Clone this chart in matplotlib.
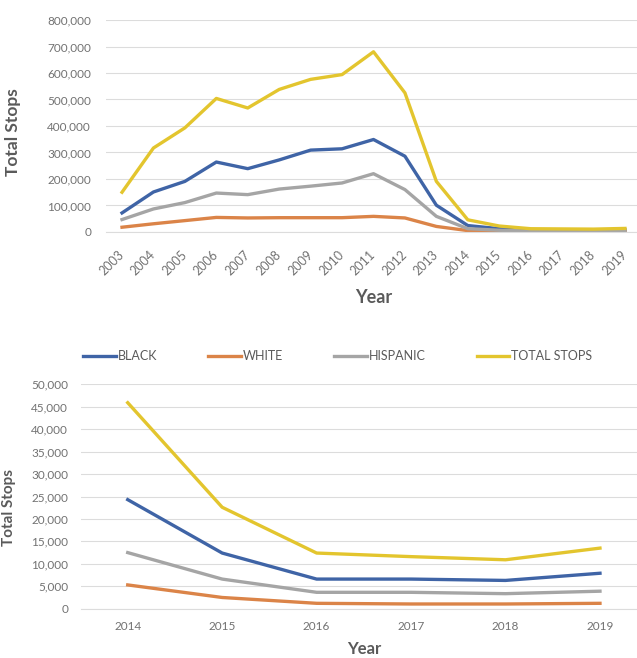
import numpy as np
import matplotlib.pyplot as plt
from matplotlib.ticker import FuncFormatter

# values
years_all = [str(y) for y in range(2003, 2020)]
black_all = [72000, 151000, 191000, 264000, 239000, 272000, 309000, 314000, 349000,
             286000, 101000, 24300, 12400, 6600, 6600, 6300, 7900]
white_all = [18000, 31000, 43000, 55000, 53000, 54000, 54000, 54000, 59000,
             53000, 21000, 5300, 2500, 1200, 1050, 1050, 1200]
hispanic_all = [47000, 87000, 111000, 147000, 141000, 162000, 173000, 185000, 220000,
                160000, 59000, 12500, 6600, 3650, 3650, 3350, 3900]
total_all = [150000, 317000, 393000, 504000, 468000, 538000, 576000, 594000, 680000,
             525000, 191000, 45900, 22600, 12400, 11600, 10900, 13500]

years_recent = ['2014', '2015', '2016', '2017', '2018', '2019']
black_recent = [24300, 12400, 6600, 6600, 6300, 7900]
white_recent = [5300, 2500, 1200, 1050, 1050, 1200]
hispanic_recent = [12500, 6600, 3650, 3650, 3350, 3900]
total_recent = [45900, 22600, 12400, 11600, 10900, 13500]

labels = ['BLACK', 'WHITE', 'HISPANIC', 'TOTAL STOPS']
colors = ['#3F64A6', '#DB8448', '#A5A5A5', '#E3C52E']

plt.rcParams['font.family'] = ['Lato', 'DejaVu Sans']
tick_color = '#727272'
title_color = '#5A5A5A'
grid_color = '#DCDCDC'
comma = FuncFormatter(lambda v, p: f'{int(v):,}')

fig = plt.figure(figsize=(6.37, 6.58), dpi=100)
W, H = 637, 658


def style(ax, ymax, step, ypad, xpad):
    ax.set_ylim(0, ymax)
    ax.set_yticks(np.arange(0, ymax + 1, step))
    ax.yaxis.set_major_formatter(comma)
    ax.grid(axis='y', color=grid_color, linewidth=0.8)
    ax.set_axisbelow(True)
    for s in ['top', 'right', 'left']:
        ax.spines[s].set_visible(False)
    ax.spines['bottom'].set_color(grid_color)
    ax.spines['bottom'].set_linewidth(0.8)
    ax.tick_params(axis='both', length=0, colors=tick_color, labelsize=8.5)
    ax.tick_params(axis='y', pad=ypad)
    ax.tick_params(axis='x', pad=xpad)


# top chart: 2003-2019
ax1 = fig.add_axes([106.3 / W, 1 - 232 / H, 534.4 / W, 212 / H])
x1 = np.arange(len(years_all))
for vals, c in zip([black_all, white_all, hispanic_all, total_all], colors):
    ax1.plot(x1, vals, color=c, linewidth=2.4, solid_joinstyle='round')
ax1.set_xlim(-0.5, len(years_all) - 0.5)
ax1.set_xticks(x1)
ax1.set_xticklabels(years_all, rotation=45, ha='right', va='center',
                    rotation_mode='anchor')
style(ax1, 800000, 100000, 11, 15)
ax1.tick_params(axis='x', labelsize=9)
ax1.set_ylabel('Total Stops', fontsize=12.5, fontweight='bold', color=title_color)
ax1.yaxis.set_label_coords(-(106.3 - 21) / 534.4, (232 - 132) / 212)
ax1.set_xlabel('Year', fontsize=13, fontweight='bold', color=title_color)
ax1.xaxis.set_label_coords(0.5, -(289 - 232) / 212)

# bottom chart: 2014-2019
ax2 = fig.add_axes([80.5 / W, 1 - 608.7 / H, 566.7 / W, 224.4 / H])
x2 = np.arange(len(years_recent))
lines = []
for vals, c, lab in zip([black_recent, white_recent, hispanic_recent, total_recent],
                        colors, labels):
    ln, = ax2.plot(x2, vals, color=c, linewidth=2.4, label=lab, solid_joinstyle='round')
    lines.append(ln)
ax2.set_xlim(-0.5, len(years_recent) - 0.5)
ax2.set_xticks(x2)
ax2.set_xticklabels(years_recent)
style(ax2, 50000, 5000, 9, 9)
ax2.set_ylabel('Total Stops', fontsize=11, fontweight='bold', color=title_color)
ax2.yaxis.set_label_coords(-(80.5 - 16) / 566.7, (608.7 - 508) / 224.4)
ax2.set_xlabel('Year', fontsize=12, fontweight='bold', color=title_color)
ax2.xaxis.set_label_coords(0.5, -(641 - 608.7) / 224.4)

leg = fig.legend(handles=lines, loc='center left', ncol=4, frameon=False,
                 bbox_to_anchor=(72 / W, 1 - 356 / H), fontsize=9,
                 handlelength=2.6, handletextpad=0.15, columnspacing=4.1,
                 labelcolor=title_color)

fig.savefig('out.png', dpi=100, facecolor='white')
